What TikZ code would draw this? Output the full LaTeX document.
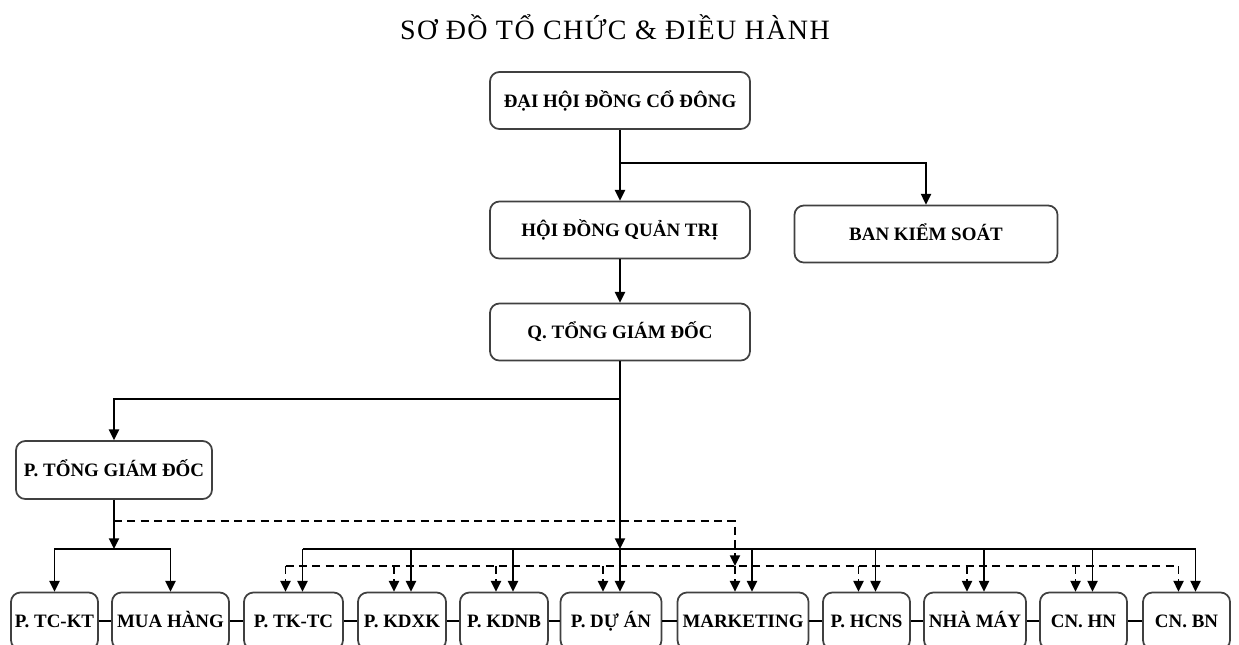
\documentclass[tikz,border=0pt]{standalone}
\usepackage{fontspec}
\setmainfont{Liberation Serif}
\newfontfamily\titlefont[LetterSpace=5]{Liberation Serif}
\usetikzlibrary{arrows.meta,calc}
\newdimen\pxu \pxu=0.75pt

\begin{document}
\begin{tikzpicture}[x=0.75pt,y=-0.75pt,
box/.style={draw=black!75, line width=1.3pt, rounded corners=7pt, fill=white, inner sep=0pt,
  minimum height=57\pxu, text height=12pt, text depth=2pt, font=\fontsize{14.2}{16}\selectfont\bfseries},
link/.style={line width=1.4pt},
dashlink/.style={line width=1.4pt, dash pattern=on 6pt off 4pt},
arr/.style={-{Triangle[length=8pt,width=7.5pt]}}]

\useasboundingbox (0,0) rectangle (1239,644);
\clip (0,0) rectangle (1239,644);

\node[font=\titlefont\fontsize{21}{23}\selectfont, anchor=base] (title) at (615,39) {SƠ ĐỒ TỔ CHỨC \& ĐIỀU HÀNH};

% top of the tree
\node[box, minimum width=260\pxu] (dhcd) at (620,100.5) {ĐẠI HỘI ĐỒNG CỔ ĐÔNG};
\node[box, minimum width=260\pxu] (hdqt) at (620,230) {HỘI ĐỒNG QUẢN TRỊ};
\node[box, minimum width=263\pxu] (bks) at (926,234) {BAN KIỂM SOÁT};
\node[box, minimum width=260\pxu] (qtgd) at (620,332) {Q. TỔNG GIÁM ĐỐC};
\node[box, minimum width=196\pxu, minimum height=58\pxu] (ptgd) at (114,470) {P. TỔNG GIÁM ĐỐC};

% bottom row
\foreach \name/\cx/\w/\txt in {tckt/54.5/87/{P. TC-KT}, mua/170.5/117/{MUA HÀNG},
  tktc/293.5/99/{P. TK-TC}, kdxk/402/88/{P. KDXK}, kdnb/504/88/{P. KDNB},
  duan/611/101/{P. DỰ ÁN}, mkt/743/131/{MARKETING}, hcns/866.5/87/{P. HCNS},
  nm/975/102/{NHÀ MÁY}, hn/1083.5/87/{CN. HN}, bn/1186.5/87/{CN. BN}}
  \node[box, minimum width=\w\pxu] (\name) at (\cx,621) {\txt};

\foreach \a/\b in {tckt/mua, mua/tktc, tktc/kdxk, kdxk/kdnb, kdnb/duan,
  duan/mkt, mkt/hcns, hcns/nm, nm/hn, hn/bn}
  \draw[link] (\a.east) -- (\b.west);

\coordinate (j1) at (620,163);
\coordinate (j2) at (620,399);
\coordinate (j3) at (620,549);
\coordinate (j4) at (114,549);
\coordinate (k1) at (114,521);
\coordinate (k2) at (620,566);

\draw[link] (dhcd) -- (j1);
\draw[link,arr] (j1) -- (hdqt);
\draw[link,arr] (j1) -| (bks);
\draw[link,arr] (hdqt) -- (qtgd);
\draw[link] (qtgd) -- (j2);
\draw[link,arr] (j2) -| (ptgd);
\draw[link,arr] (j2) -- (j3);

% left group
\draw[link,arr] (ptgd) -- (j4);
\draw[link,arr] (j4) -| (tckt);
\draw[link,arr] (j4) -| (mua);

% right group, solid and dashed
\foreach \name in {tktc, kdxk, kdnb, duan, mkt, hcns, nm, hn, bn} {
  \coordinate (\name-s) at ($(\name.north |- j3)+(9,0)$);
  \coordinate (\name-d) at ($(\name.north |- k2)+(-8,0)$);
}
\draw[link] (tktc-s) -- (bn-s);
\draw[dashlink] (tktc-d) -- (bn-d);
\draw[dashlink,arr] (k1) -| (mkt-d);
\foreach \name in {tktc, kdxk, kdnb, duan, mkt, hcns, nm, hn, bn} {
  \draw[link,arr] (\name-s) -- (\name-s |- \name.north);
  \draw[dashlink,arr] (\name-d) -- (\name-d |- \name.north);
}
\end{tikzpicture}
\end{document}
